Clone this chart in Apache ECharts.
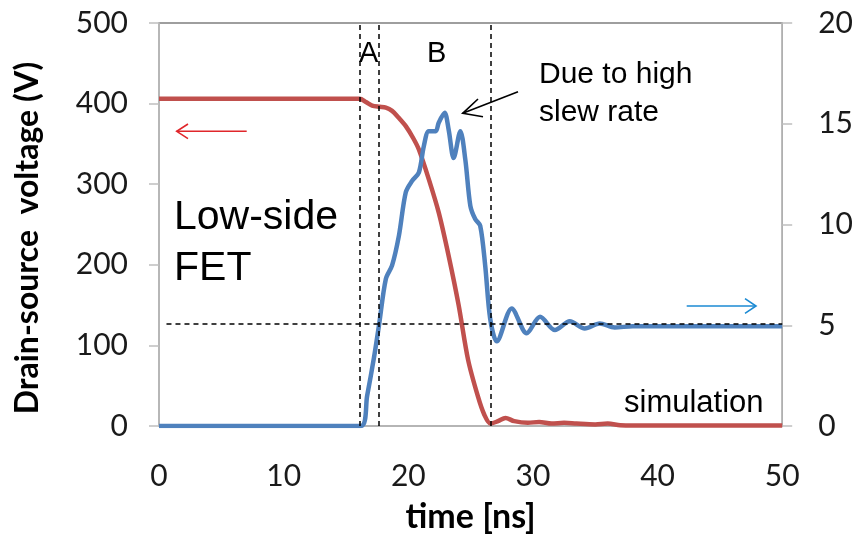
<!DOCTYPE html>
<html><head><meta charset="utf-8">
<script src="https://cdn.jsdelivr.net/npm/echarts@6/dist/echarts.min.js"></script>
<style>html,body{margin:0;padding:0;background:#fff}#c{width:856px;height:539px}</style>
</head><body><div id="c"></div>
<script>
// ---- data ----
var redT = [0, 16.1, 16.6, 17.1, 17.7, 18.2, 18.7, 19.2, 19.8, 20.4, 20.85, 21.65, 22.44, 23.24, 24.04, 24.8, 25.6, 26.1, 26.6, 27.2, 27.8, 28.5, 29.6, 30.5, 31.5, 32.5, 33.5, 35, 36, 37, 38, 50];
var redV = [406, 406, 402, 397.5, 396, 395, 391, 383, 372, 357, 343, 306, 265, 211, 150, 82, 36, 14, 3, 6, 10, 6, 4, 5, 3, 4, 3, 2, 3, 1, 0.5, 0.5];
var blueT = [0, 16.2, 16.7, 17.25, 17.65, 18.2, 18.7, 19.25, 19.8, 20.3, 20.85, 21.25, 21.65, 22.2, 22.44, 22.92, 23.24, 23.64, 24.18, 24.58, 24.98, 25.37, 25.77, 26.17, 26.57, 27.1, 28.3, 29.5, 30.57, 31.77, 32.96, 34.16, 35.36, 36.56, 38, 50];
var blueV = [0, 0, 1.5, 3.4, 5.0, 7.3, 7.97, 9.45, 11.6, 12.16, 12.58, 13.9, 14.63, 14.63, 15.05, 15.54, 14.7, 13.3, 14.63, 13.2, 10.93, 10.27, 9.94, 7.97, 5.33, 4.2, 5.83, 4.6, 5.42, 4.76, 5.2, 4.84, 5.09, 4.89, 4.95, 4.95];
var phaseLines = [16.1, 17.65, 26.6];   // ns, dashed vertical markers
var refLevel = 5.05;                    // right-axis dashed reference
var leftTicks = [0, 100, 200, 300, 400, 500];
var rightTicks = [0, 5, 10, 15, 20];
var xTicks = [0, 10, 20, 30, 40, 50];

function pairs(a, b) { return a.map(function (t, i) { return [t, b[i]]; }); }

var chart = echarts.init(document.getElementById('c'), null, {renderer: 'canvas'});
var labelFont = {fontFamily: 'Lato', fontSize: 30, color: '#1a1a1a'};
var dash = {color: '#000', type: [5, 4], width: 1.5};

chart.setOption({
  animation: false,
  grid: {left: 159, right: 71, top: 23, bottom: 111, show: true, borderColor: '#7f7f7f', borderWidth: 1.5},
  xAxis: {
    type: 'value', min: xTicks[0], max: xTicks[xTicks.length - 1], interval: 10,
    name: 'time [ns]', nameLocation: 'middle', nameGap: 74,
    nameTextStyle: {fontFamily: 'Lato', fontWeight: 'bold', fontSize: 34, color: '#000'},
    axisLine: {lineStyle: {color: '#bfbfbf', width: 1.5}},
    axisTick: {show: false},
    axisLabel: Object.assign({margin: 35}, labelFont),
    splitLine: {show: false}
  },
  yAxis: [{
    type: 'value', min: leftTicks[0], max: leftTicks[leftTicks.length - 1], interval: 100,
    axisLine: {show: true, lineStyle: {color: '#bfbfbf', width: 1.5}},
    axisTick: {show: true, length: 10, lineStyle: {color: '#bfbfbf', width: 1.5}},
    axisLabel: Object.assign({margin: 31}, labelFont),
    splitLine: {show: false}
  }, {
    type: 'value', min: rightTicks[0], max: rightTicks[rightTicks.length - 1], interval: 5,
    position: 'right',
    axisLine: {show: true, lineStyle: {color: '#bfbfbf', width: 1.5}},
    axisTick: {show: true, length: 10, lineStyle: {color: '#bfbfbf', width: 1.5}},
    axisLabel: Object.assign({margin: 36}, labelFont),
    splitLine: {show: false}
  }],
  series: [{
    type: 'line', yAxisIndex: 0, data: pairs(redT, redV), showSymbol: false, smooth: 0.3,
    lineStyle: {color: '#c0504d', width: 4.5}, z: 3,
    markLine: {silent: true, symbol: 'none', label: {show: false}, lineStyle: dash,
      data: phaseLines.map(function (v) { return {xAxis: v}; })}
  }, {
    type: 'line', yAxisIndex: 1, data: pairs(blueT, blueV), showSymbol: false, smooth: 0.3,
    lineStyle: {color: '#4f81bd', width: 4.5}, z: 4,
    markLine: {silent: true, symbol: 'none', label: {show: false}, lineStyle: dash,
      data: [[{coord: [0.6, refLevel]}, {coord: [50, refLevel]}]]}
  }],
  graphic: [
    {type: 'text', x: 28, y: 238, rotation: Math.PI / 2,
      style: {text: 'Drain-source  voltage (V)', font: 'bold 32px Lato', fill: '#000', align: 'center', verticalAlign: 'middle'}},
    {type: 'text', left: 359, top: 39, style: {text: 'A', font: '29px "Liberation Sans"', fill: '#000'}},
    {type: 'text', left: 427, top: 39, style: {text: 'B', font: '29px "Liberation Sans"', fill: '#000'}},
    {type: 'text', left: 539, top: 56, style: {text: 'Due to high\nslew rate', font: '30px "Liberation Sans"', lineHeight: 38, fill: '#000'}},
    {type: 'text', left: 174, top: 192, style: {text: 'Low-side\nFET', font: '41px "Liberation Sans"', lineHeight: 51, fill: '#000'}},
    {type: 'text', left: 624, top: 388, style: {text: 'simulation', font: '31px "Liberation Sans"', fill: '#000'}},
    // black arrow
    {type: 'polyline', shape: {points: [[518, 91.7], [462.7, 113.3]]}, style: {stroke: '#000', lineWidth: 1.6, fill: null}},
    {type: 'polyline', shape: {points: [[478, 99], [462.7, 113.3], [483, 116.7]]}, style: {stroke: '#000', lineWidth: 1.6, fill: null}},
    // red arrow
    {type: 'polyline', shape: {points: [[246.7, 131.3], [176.7, 131.3]]}, style: {stroke: '#e0262b', lineWidth: 1.6, fill: null}},
    {type: 'polyline', shape: {points: [[188, 124], [176.7, 131.3], [188, 138.6]]}, style: {stroke: '#e0262b', lineWidth: 1.6, fill: null}},
    // blue arrow
    {type: 'polyline', shape: {points: [[686.7, 306], [756, 306]]}, style: {stroke: '#1b8ad3', lineWidth: 1.6, fill: null}},
    {type: 'polyline', shape: {points: [[745, 298.7], [756, 306], [745, 313.3]]}, style: {stroke: '#1b8ad3', lineWidth: 1.6, fill: null}}
  ]
});
</script></body></html>
